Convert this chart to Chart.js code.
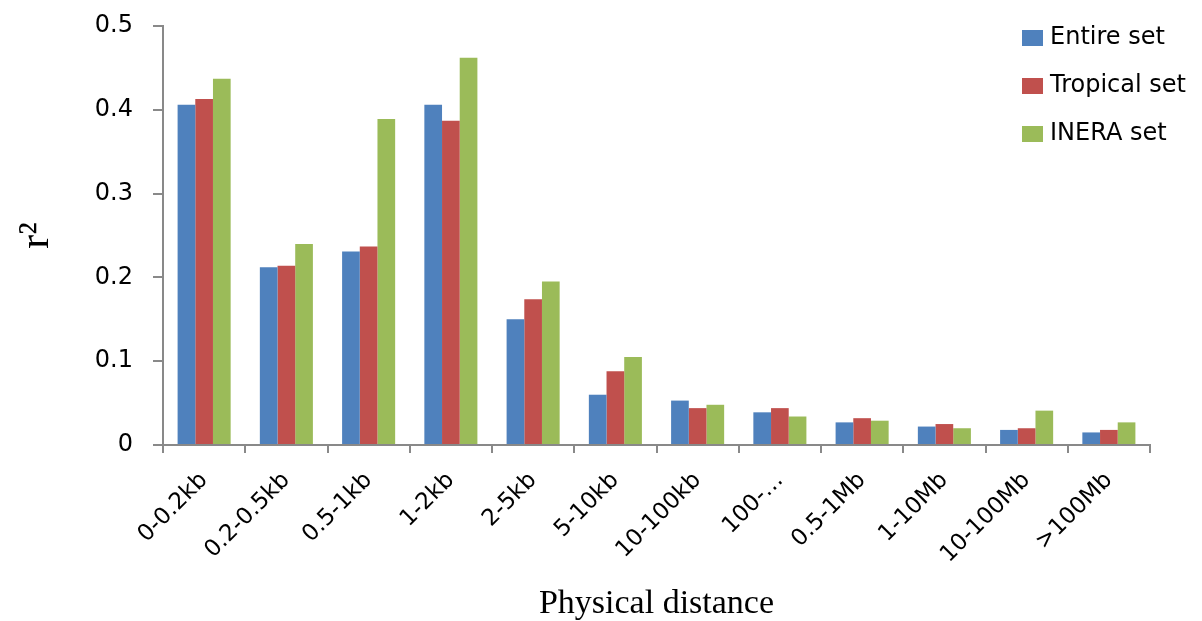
<!DOCTYPE html>
<html>
<head>
<meta charset="utf-8">
<script src="https://cdn.jsdelivr.net/npm/chart.js@4"></script>
<style>
  body { margin: 0; background: #fff; }
</style>
</head>
<body>
<canvas id="chart" width="1202" height="621"></canvas>
<script>
const categories = ['0-0.2kb', '0.2-0.5kb', '0.5-1kb', '1-2kb', '2-5kb', '5-10kb', '10-100kb', '100-…', '0.5-1Mb', '1-10Mb', '10-100Mb', '>100Mb'];
const entireSet = [0.406, 0.212, 0.231, 0.406, 0.150, 0.060, 0.053, 0.039, 0.027, 0.022, 0.018, 0.015];
const tropicalSet = [0.413, 0.214, 0.237, 0.387, 0.174, 0.088, 0.044, 0.044, 0.032, 0.025, 0.020, 0.018];
const ineraSet = [0.437, 0.240, 0.389, 0.462, 0.195, 0.105, 0.048, 0.034, 0.029, 0.020, 0.041, 0.027];
const yTickLabels = ['0', '0.1', '0.2', '0.3', '0.4', '0.5'];

const axisGray = '#898989';

// legend drawn at the top right, over the plot like the original
const sideLegend = {
    id: 'sideLegend',
    afterDraw(chart) {
        const ctx = chart.ctx;
        ctx.save();
        ctx.font = '24px "DejaVu Sans", sans-serif';
        ctx.textBaseline = 'middle';
        chart.data.datasets.forEach((ds, i) => {
            const y = 38 + i * 48;
            ctx.fillStyle = ds.backgroundColor;
            ctx.fillRect(1022, y - 8, 21, 16);
            ctx.fillStyle = '#000';
            ctx.fillText(ds.label, 1050, y);
        });
        ctx.restore();
    }
};

const ctx = document.getElementById('chart').getContext('2d');
const myChart = new Chart(ctx, {
    type: 'bar',
    data: {
        labels: categories,
        datasets: [
            { label: 'Entire set', data: entireSet, backgroundColor: '#4F81BD' },
            { label: 'Tropical set', data: tropicalSet, backgroundColor: '#C0504D' },
            { label: 'INERA set', data: ineraSet, backgroundColor: '#9BBB59' }
        ]
    },
    options: {
        responsive: false,
        animation: false,
        layout: { padding: { top: 26, right: 52, left: 0, bottom: 0 } },
        datasets: { bar: { categoryPercentage: 0.645, barPercentage: 1.0 } },
        plugins: {
            legend: { display: false },
            tooltip: { enabled: false }
        },
        scales: {
            x: {
                grid: { offset: true, drawOnChartArea: false, color: axisGray, lineWidth: 2, tickLength: 8 },
                border: { color: axisGray, width: 2 },
                ticks: {
                    color: '#000',
                    font: { family: '"DejaVu Sans", sans-serif', size: 23 },
                    maxRotation: 45, minRotation: 45,
                    autoSkip: false,
                    padding: 14
                },
                title: {
                    display: true,
                    text: 'Physical distance',
                    color: '#000',
                    font: { family: '"Liberation Serif", serif', size: 34, lineHeight: 1.0 },
                    padding: { top: 0, bottom: 0 }
                },
                afterFit(scale) {
                    scale.height = 176;
                    scale.paddingLeft = 0;
                    scale.paddingRight = 0;
                }
            },
            y: {
                min: 0,
                max: 0.5,
                grid: { drawOnChartArea: false, color: axisGray, lineWidth: 2, tickLength: 10 },
                border: { color: axisGray, width: 2 },
                ticks: {
                    stepSize: 0.1,
                    color: '#000',
                    font: { family: '"DejaVu Sans", sans-serif', size: 24 },
                    padding: 20,
                    callback: (v, i) => yTickLabels[i]
                },
                title: {
                    display: true,
                    text: 'r²',
                    color: '#000',
                    font: { family: '"Liberation Serif", serif', size: 42, lineHeight: 1.76 },
                    padding: { top: 0, bottom: 0 }
                },
                afterFit(scale) {
                    scale.width = 163;
                    scale.paddingTop = 0;
                    scale.paddingBottom = 0;
                }
            }
        }
    },
    plugins: [sideLegend]
});
</script>
</body>
</html>
